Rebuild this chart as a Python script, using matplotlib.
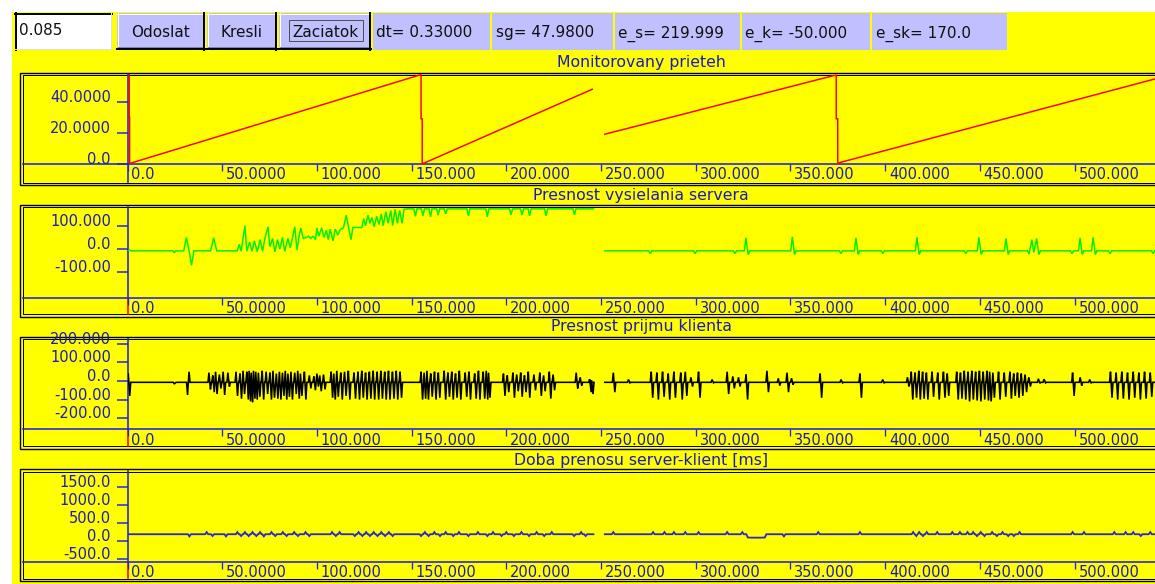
import numpy as np
import matplotlib.pyplot as plt
import matplotlib.transforms as mtransforms
from matplotlib.patches import Rectangle

# Window size in pixels
W, H = 1155, 584

YELLOW = '#ffff00'
LAVENDER = '#c0c0ff'
AX_BLUE = '#2020f0'
TXT_BLUE = '#1a1ac0'
TXT_DARK = '#101010'

# ---------------- toolbar contents ----------------
input_value = '0.085'
button_names = ['Odoslat', 'Kresli', 'Zaciatok']
status_texts = ['dt= 0.33000', 'sg= 47.9800', 'e_s= 219.999', 'e_k= -50.000', 'e_sk= 170.0']

# ---------------- shared time axis ----------------
x_ticks = [0, 50, 100, 150, 200, 250, 300, 350, 400, 450, 500]
x_tick_labels = ['0.0', '50.0000', '100.000', '150.000', '200.000', '250.000',
                 '300.000', '350.000', '400.000', '450.000', '500.000']
seg1 = (0.0, 246.0)    # first recorded block
seg2 = (252.0, 542.5)  # second recorded block (after the gap)

panel_titles = ['Monitorovany prieteh', 'Presnost vysielania servera',
                'Presnost prijmu klienta', 'Doba prenosu server-klient [ms]']

mon_yticks = [0, 20, 40]
mon_ylabels = ['0.0', '20.0000', '40.0000']
server_yticks = [-100, 0, 100]
server_ylabels = ['-100.00', '0.0', '100.000']
klient_yticks = [-200, -100, 0, 100, 200]
klient_ylabels = ['-200.00', '-100.00', '0.0', '100.000', '200.000']
doba_yticks = [-500, 0, 500, 1000, 1500]
doba_ylabels = ['-500.0', '0.0', '500.0', '1000.0', '1500.0']

# ---------------- Monitorovany prieteh (sawtooth breakpoints) ----------------
mon_t = [0.9, 0.9, 1.1, 1.1, 2.4, 153.9, 155.0, 155.0, 155.6, 155.6, 157.0, 245.4, np.nan,
         252.0, 372.6, 374.2, 374.2, 375.0, 375.0, 376.6, 542.5]
mon_v = [58.0, 30.0, 30.0, 0.0, 0.5, 57.3, 57.6, 29.0, 29.0, 0.0, 0.5, 48.2, np.nan,
         19.0, 57.0, 57.3, 29.0, 29.0, 0.0, 0.8, 54.9]

# ---------------- Presnost vysielania servera ----------------
server_t = [0.0, 1.0, 1.8, 24.0, 24.7, 25.5, 29.7, 31.1, 32.5, 33.8, 35.0, 43.9, 45.5, 47.1,
            56.0, 58.0, 59.0, 60.0, 62.0, 63.0, 64.5, 65.7, 67.0, 68.5, 70.0, 71.3, 72.8,
            74.2, 75.2, 76.6, 77.8, 79.2, 80.4, 81.8, 83.0, 84.7, 85.9, 87.3, 88.3, 89.5,
            90.7, 91.5, 92.8, 94.4, 95.6, 96.8, 98.0, 99.3, 100.0, 101.0, 102.5, 103.7,
            105.0, 106.0, 107.0, 108.5, 109.7, 111.0, 112.5, 114.0, 115.5, 117.0, 118.0,
            119.0, 123.7, 124.7, 125.7, 127.0, 128.0, 129.0, 130.3, 131.5, 132.8, 134.0,
            135.0, 136.4, 137.6, 139.0, 140.0, 141.3, 142.5, 143.7, 145.0, 146.0]
server_v = [-8, -4, -8, -8, -16, -8, -8, 50, -8, -70, -8, -8, 48, -8,
            -8, -8, 20, -10, 100, -10, 30, -10, 35, -12, 40, -10, 55,
            95, 10, 45, -12, 40, 0, 50, -10, 45, 5, 55, 95, -5,
            60, 90, 45, 50, 55, 45, 55, 40, 90, 55, 90, 50,
            80, 40, 85, 35, 85, 60, 85, 90, 145, 80, 40,
            92, 92, 130, 100, 145, 110, 135, 95, 140, 105, 150,
            100, 160, 110, 165, 100, 170, 110, 165, 110, 170]
server_top_level = 172
server_top_dip_t = [152.0, 156.0, 160.0, 164.0, 168.0, 180.0, 190.0, 202.5, 208.3, 212.3, 221.0, 236.0]
server_top_dip_v = [140, 142, 138, 145, 150, 142, 138, 146, 146, 142, 142, 146]
server_base = -8
server_ev_t = [276.0, 299.7, 320.7, 326.5, 327.7, 351.0, 352.2, 376.7, 384.6, 385.8,
               398.8, 416.8, 418.0, 442.6, 449.5, 450.7, 463.8, 465.0, 476.0, 477.5,
               478.5, 480.0, 481.2, 498.7, 502.9, 504.1, 509.8, 511.0, 518.8, 541.5]
server_ev_v = [-20, -20, -20, 48, -24, 52, -24, -20, 48, -24,
               -20, 50, -24, -20, 50, -24, 45, -24, -22, 40,
               -15, 45, -24, -20, 48, -24, 50, -24, -20, -20]

# ---------------- Presnost prijmu klienta (spike times, upper and lower tips) ----------------
klient_base = -7
klient_t = [0.4, 24.7, 31.7, 43.0, 45.0, 46.5, 48.5, 50.5, 53.0, 57.3,
            59.4, 61.0, 63.0, 64.2, 65.3, 66.5, 67.7, 69.1, 71.1, 73.2,
            75.2, 76.8, 78.6, 80.2, 81.8, 83.3, 84.7, 86.3, 88.3, 89.9,
            91.3, 93.4, 96.0, 98.4, 100.0, 101.5, 103.5, 107.5, 108.9, 110.5,
            112.6, 114.6, 116.6, 119.6, 121.7, 123.7, 125.7, 127.7, 129.7, 131.8,
            133.8, 135.8, 137.8, 139.9, 141.9, 143.9, 155.0, 156.6, 158.1, 160.1,
            162.1, 164.1, 167.2, 169.2, 171.2, 173.2, 175.2, 178.3, 180.3, 183.3,
            185.3, 187.8, 189.4, 190.6, 198.5, 200.5, 203.5, 205.5, 207.6, 209.6,
            211.6, 214.6, 217.7, 219.7, 222.7, 224.7, 236.9, 239.0, 244.0, 245.0,
            256.5, 264.5, 276.5, 279.5, 282.5, 285.5, 288.5, 292.1, 294.5, 297.5,
            301.5, 308.6, 316.6, 319.6, 322.6, 326.6, 337.6, 343.6, 348.2, 350.6,
            365.7, 376.7, 386.7, 398.7, 411.8, 413.8, 415.8, 417.8, 419.8, 421.8,
            424.8, 427.8, 430.8, 432.8, 437.8, 439.8, 441.8, 443.8, 445.8, 447.8,
            449.8, 451.8, 453.8, 455.2, 456.9, 459.9, 462.9, 465.9, 467.9, 469.9,
            471.9, 473.9, 475.9, 480.9, 483.9, 499.0, 503.0, 508.0, 519.0, 522.0,
            525.0, 528.0, 531.0, 534.0, 537.0, 540.0]
klient_hi = [40, -16, -75, 45, 30, 50, 35, 50, 45, 50,
             40, 55, 50, 55, 45, 55, 50, 45, 55, 50,
             45, 55, 40, 50, 45, 55, 40, 50, 45, 55,
             40, 50, 30, 25, 40, 30, 35, 50, 40, 55,
             45, 50, 55, 45, 50, 55, 45, 50, 55, 50,
             55, 50, 55, 50, 55, 50, 50, 45, 55, 40,
             50, 45, 55, 45, 50, 40, 55, 45, 50, 40,
             55, 50, 55, 45, 40, 30, 45, 35, 45, 30,
             50, 35, 45, 30, 50, 35, 45, 20, 10, 5,
             45, 8, 50, 45, 50, 40, 50, 45, 50, 20,
             50, 8, 50, 25, 20, 35, 55, 15, 45, 15,
             40, 8, 40, 8, 20, 50, 45, 55, 50, 45,
             50, 45, 50, 40, 50, 45, 55, 50, 55, 50,
             55, 50, 55, 50, 45, 50, 45, 50, 40, 45,
             40, 35, 20, 12, 10, 45, 20, 8, 50, 45,
             50, 45, 50, 45, 50, 45]
klient_lo = [-80, -8, 50, -45, -60, -70, -40, -75, -30, -80,
             -95, -70, -100, -110, -115, -95, -100, -85, -100, -70,
             -100, -90, -95, -100, -80, -100, -85, -100, -70, -95,
             -80, -100, -40, -50, -30, -55, -45, -90, -100, -85,
             -100, -80, -100, -95, -100, -90, -100, -95, -100, -100,
             -95, -100, -100, -95, -100, -90, -100, -95, -100, -85,
             -100, -90, -100, -85, -100, -90, -100, -85, -100, -95,
             -100, -95, -100, -90, -80, -60, -90, -55, -85, -60,
             -90, -50, -80, -55, -95, -50, -40, -25, -60, -70,
             -60, -10, -90, -100, -85, -100, -90, -100, -80, -30,
             -90, -10, -70, -40, -30, -100, -60, -25, -60, -20,
             -90, -10, -90, -10, -30, -100, -90, -100, -95, -100,
             -85, -100, -90, -80, -100, -95, -100, -110, -100, -105,
             -110, -100, -105, -110, -90, -100, -85, -95, -80, -90,
             -80, -60, -30, -12, -10, -80, -25, -10, -90, -100,
             -95, -100, -90, -100, -95, -85]

# ---------------- Doba prenosu server-klient [ms] ----------------
doba_base = 180
doba_ev_t = [32.7, 41.8, 44.9, 52.0, 58.0, 60.0, 62.0, 64.0, 66.0, 68.0,
             70.0, 72.0, 76.0, 78.0, 82.0, 84.0, 88.0, 90.0, 94.0, 96.0,
             108.0, 110.0, 112.0, 120.0, 122.0, 124.0, 126.0, 128.0, 130.0, 132.0,
             134.0, 136.0, 138.0, 140.0, 155.0, 157.0, 159.0, 162.0, 165.0, 168.0,
             172.0, 175.0, 180.0, 185.0, 190.0, 193.0, 197.5, 200.0, 204.0, 208.0,
             212.0, 216.0, 220.0, 224.0, 235.8, 239.5, 241.9,
             256.5, 277.5, 283.5, 288.5, 294.5, 301.5, 316.6, 324.6, 327.5, 329.0,
             330.5, 332.0, 333.5, 335.0, 336.5, 346.6, 364.7, 386.7, 414.8, 416.5,
             418.0, 420.0, 422.0, 427.5, 435.5, 439.5, 443.5, 446.5, 448.5, 450.5,
             452.5, 456.5, 459.0, 462.0, 465.0, 468.0, 471.0, 499.0, 505.0, 521.0,
             527.0, 531.0, 535.0, 540.0]
doba_ev_v = [120, 240, 130, 120, 240, 130, 240, 130, 240, 130,
             240, 120, 240, 130, 240, 130, 240, 130, 240, 130,
             240, 130, 240, 130, 240, 130, 240, 130, 240, 130,
             240, 130, 240, 130, 130, 240, 130, 240, 130, 240,
             130, 240, 130, 240, 130, 240, 130, 240, 130, 240,
             130, 240, 130, 240, 130, 240, 130,
             240, 240, 240, 240, 240, 240, 240, 240, 90, 85,
             85, 85, 85, 85, 90, 120, 240, 240, 240, 130,
             240, 130, 240, 240, 240, 240, 240, 240, 130, 240,
             130, 240, 130, 240, 130, 130, 240, 240, 240, 240,
             240, 240, 130, 240]


def spike_line(t0, t1, base, ev_t, ev_v, w):
    """Polyline that stays on `base` and jumps to each event value."""
    ts, vs = [t0], [base]
    prev = None
    for t, v in sorted(zip(ev_t, ev_v)):
        if t < t0 or t > t1:
            continue
        if prev is None or t - prev > 2 * w:
            if prev is not None:
                ts.append(prev + w); vs.append(base)
            ts.append(t - w); vs.append(base)
        ts.append(t); vs.append(v)
        prev = t
    if prev is not None:
        ts.append(prev + w); vs.append(base)
    ts.append(t1); vs.append(base)
    return ts, vs


def join(*segs):
    t_all, v_all = [], []
    for i, (ts, vs) in enumerate(segs):
        if i:
            t_all.append(np.nan); v_all.append(np.nan)
        t_all += list(ts); v_all += list(vs)
    return t_all, v_all


# build series
top_t, top_v = spike_line(147.3, seg1[1], server_top_level, server_top_dip_t, server_top_dip_v, 0.8)
srv2 = spike_line(seg2[0], seg2[1], server_base, server_ev_t, server_ev_v, 0.8)
server_line = join((server_t + top_t, server_v + top_v), srv2)

kl_ev_t = klient_t + [t + 0.8 for t in klient_t]
kl_ev_v = klient_hi + klient_lo
klient_line = join(spike_line(seg1[0], seg1[1], klient_base, kl_ev_t, kl_ev_v, 0.5),
                   spike_line(seg2[0], seg2[1], klient_base, kl_ev_t, kl_ev_v, 0.5))

doba_line = join(spike_line(seg1[0], seg1[1], doba_base, doba_ev_t, doba_ev_v, 0.8),
                 spike_line(seg2[0], seg2[1], doba_base, doba_ev_t, doba_ev_v, 0.8))

series = [((mon_t, mon_v), '#ff0000', 1.5, mon_yticks, mon_ylabels),
          (server_line, '#00ee00', 1.5, server_yticks, server_ylabels),
          (klient_line, '#000000', 1.6, klient_yticks, klient_ylabels),
          (doba_line, '#2828d0', 1.8, doba_yticks, doba_ylabels)]

# ---------------- layout (pixels, y downwards) ----------------
# title baseline, box top, box bottom, plot top, x-axis y, ylim
panel_geom = [(67.5, 72.5, 185.0, 74.0, 164.0, (-0.32, 58.1)),
              (200.0, 204.5, 316.5, 207.0, 297.7, (-209, 180)),
              (331.5, 336.5, 448.5, 338.5, 429.3, (-260, 229)),
              (465.0, 469.0, 581.0, 471.0, 561.7, (-583, 1936))]
Y_AXIS_X = 127.5
BOX_L = 20
X_MAX = 542.5


def pt(p):
    return p * 0.72  # pixels -> points at 100 dpi


fig = plt.figure(figsize=(W / 100, H / 100), dpi=100)
fig.patch.set_facecolor('white')
bg = fig.add_axes([0, 0, 1, 1])
bg.set_xlim(0, W)
bg.set_ylim(H, 0)
bg.axis('off')

bg.add_patch(Rectangle((12, 12), W, H, fc=YELLOW, ec='none'))

# input box
bg.add_patch(Rectangle((14.5, 13), 97, 36.5, fc='white', ec='none'))
bg.plot([14.5, 111.5], [14, 14], color='black', lw=pt(2))
bg.plot([15.5, 15.5], [13, 49.5], color='black', lw=pt(2))
bg.plot([111, 111], [13, 49.5], color='#e0e0e0', lw=pt(1))
bg.plot([14.5, 111.5], [49, 49], color='#e0e0e0', lw=pt(1))
bg.text(18.5, 35, input_value, fontsize=11, color=TXT_DARK, va='baseline')

# buttons
button_x = [(117, 205), (207, 277), (279, 371)]
for (x0, x1), name in zip(button_x, button_names):
    bg.add_patch(Rectangle((x0, 13), x1 - x0, 37, fc=LAVENDER, ec='none'))
    bg.plot([x0, x1], [13.5, 13.5], color='white', lw=pt(1))
    bg.plot([x0 + 0.5, x0 + 0.5], [13, 50], color='white', lw=pt(1))
    bg.plot([x0 + 1, x1 - 2], [47.3, 47.3], color='#8080a0', lw=pt(1))
    bg.plot([x1 - 2.5, x1 - 2.5], [14, 48], color='#8080a0', lw=pt(1))
    bg.plot([x0, x1], [49, 49], color='black', lw=pt(2))
    bg.plot([x1 - 1, x1 - 1], [13, 50], color='black', lw=pt(2))
    bg.text((x0 + x1) / 2, 37.3, name, ha='center', va='baseline', fontsize=11, color=TXT_DARK)
bg.add_patch(Rectangle((289, 20), 74, 21, fill=False, ec='#505050', lw=pt(1)))

# status fields
status_x = [(373, 490), (492, 613), (615, 740), (741.5, 870), (872, 1007)]
for (x0, x1), s in zip(status_x, status_texts):
    bg.add_patch(Rectangle((x0, 12.7), x1 - x0, 37.3, fc=LAVENDER, ec='none'))
    bg.text(x0 + 3.5, 37.3, s, va='baseline', fontsize=11, color=TXT_DARK)

label_offset = mtransforms.ScaledTranslation(4 / 100, 0, fig.dpi_scale_trans)

for i, (geom, ser, title) in enumerate(zip(panel_geom, series, panel_titles)):
    title_y, box_top, box_bot, plot_top, axis_y, ylim = geom
    (t, v), color, line_px, yticks, ylabels = ser

    bg.text(641, title_y, title, ha='center', va='baseline', fontsize=11.3, color=TXT_BLUE)
    for off, lw in ((0, 1.4), (2.5, 1.0)):
        bg.plot([W + 5, BOX_L + off, BOX_L + off, W + 5],
                [box_top + off, box_top + off, box_bot - off, box_bot - off],
                color='black', lw=pt(lw), solid_joinstyle='miter')
    bg.plot([BOX_L + 3, W], [axis_y, axis_y], color=AX_BLUE, lw=pt(1.6))
    bg.plot([Y_AXIS_X, Y_AXIS_X], [axis_y, box_bot - 3],
            color=AX_BLUE if i == 0 else '#ff0000', lw=pt(1.6))

    ax = fig.add_axes([Y_AXIS_X / W, 1 - axis_y / H, (W - Y_AXIS_X) / W, (axis_y - plot_top) / H])
    ax.set_facecolor('none')
    ax.set_xlim(0, X_MAX)
    ax.set_ylim(*ylim)
    for s in ('top', 'right', 'bottom'):
        ax.spines[s].set_visible(False)
    ax.spines['left'].set_color(AX_BLUE)
    ax.spines['left'].set_linewidth(pt(1.6))
    ax.set_xticks(x_ticks, x_tick_labels)
    ax.set_yticks(yticks, ylabels)
    ax.tick_params(axis='x', direction='out', length=5, width=pt(1.3), color=AX_BLUE,
                   labelcolor=TXT_BLUE, labelsize=10.5, pad=-2.5)
    ax.tick_params(axis='y', direction='out', length=8, width=pt(1.5), color=AX_BLUE,
                   labelcolor=TXT_BLUE, labelsize=10.5, pad=4)
    for lab in ax.get_xticklabels():
        lab.set_ha('left')
        lab.set_transform(lab.get_transform() + label_offset)
    for lab in ax.get_yticklabels():
        lab.set_va('baseline')
    ax.yaxis.get_major_ticks()[yticks.index(0)].tick1line.set_color('#ff0000')

    ax.plot(t, v, color=color, lw=pt(line_px), solid_joinstyle='miter', zorder=3)

fig.savefig('out.png', dpi=100)
